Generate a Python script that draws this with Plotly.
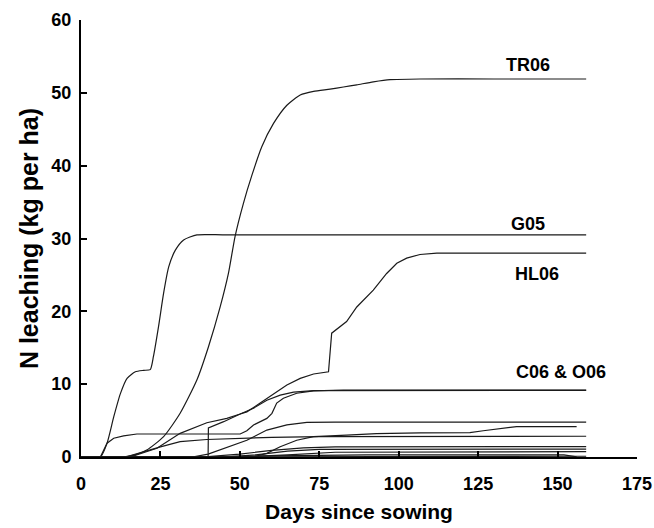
import plotly.graph_objects as go

# ---- data (days since sowing, N leaching kg/ha) ----
tr06_x = [0, 13, 17, 20.7, 26.0, 31.2, 36.5, 40.1, 43.8, 46.4, 48.5, 51.1, 53.8, 56.9, 60.6, 64.8, 69.0, 73.2, 78.4, 82.6, 86.8, 92.0, 97.3, 106.7, 130, 159]
tr06_y = [0, 0, 0.3, 0.96, 2.8, 6.0, 10.6, 15.1, 20.6, 25.2, 30.3, 34.8, 38.7, 42.6, 45.8, 48.3, 49.7, 50.2, 50.5, 50.8, 51.1, 51.5, 51.8, 51.9, 51.9, 51.9]

g05_x = [0, 6.1, 8.2, 10.3, 12.4, 14.5, 17.1, 19.7, 21.8, 22.8, 24.4, 26.0, 27.6, 29.7, 32.3, 36.5, 45, 80, 159]
g05_y = [0, 0, 1.9, 5.5, 8.7, 10.8, 11.7, 11.9, 12.0, 13.8, 17.9, 22.5, 26.1, 28.4, 29.8, 30.5, 30.5, 30.5, 30.5]

hl06_x = [0, 40.0, 40.1, 44.9, 50.1, 52.2, 56.4, 60.6, 64.8, 69.0, 73.2, 77.9, 78.9, 83.6, 86.8, 92.0, 96.2, 99.4, 102.5, 106.7, 112, 159]
hl06_y = [0, 0, 4.0, 4.85, 5.9, 6.2, 7.4, 8.7, 9.9, 10.8, 11.4, 11.7, 17.0, 18.6, 20.6, 22.9, 25.2, 26.6, 27.3, 27.8, 28.0, 28.0]

c06_x = [0, 6.1, 8.2, 10.3, 13.4, 17.6, 50.1, 52.2, 54.3, 58.5, 60.1, 61.6, 63.7, 67.9, 73.2, 82.6, 159]
c06_y = [0, 0, 1.9, 2.57, 2.9, 3.16, 3.16, 3.6, 4.4, 5.3, 6.0, 7.4, 8.06, 8.75, 9.07, 9.2, 9.2]

o06_x = [0, 15.5, 23.9, 31.2, 39.6, 45.9, 50.1, 54.3, 58.5, 62.7, 66.9, 73.2, 159]
o06_y = [0, 0, 1.2, 3.25, 4.7, 5.3, 5.9, 6.7, 7.8, 8.5, 8.9, 9.1, 9.15]

e_x = [0, 14, 25, 31.2, 39.6, 50, 60, 75, 159]
e_y = [0, 0, 1.4, 2.1, 2.4, 2.55, 2.7, 2.8, 2.85]

f_x = [0, 35, 40, 43.8, 52.2, 58.5, 64.8, 71.1, 80, 159]
f_y = [0, 0, 0.4, 0.96, 2.3, 3.7, 4.4, 4.76, 4.8, 4.8]

g_x = [0, 50, 55, 58.5, 62.7, 67.9, 73.2, 83.6, 93, 106.7, 122.4, 126.6, 132.9, 137.1, 156]
g_y = [0, 0, 0.1, 0.5, 1.4, 2.3, 2.8, 3.0, 3.2, 3.3, 3.35, 3.6, 4.0, 4.17, 4.17]

h_x = [0, 38, 50, 60, 70, 80, 159]
h_y = [0, 0, 0.4, 0.9, 1.25, 1.4, 1.42]

i_x = [0, 45, 55, 65, 75, 159]
i_y = [0, 0, 0.3, 0.8, 1.05, 1.08]

j_x = [0, 50, 65, 80, 159]
j_y = [0, 0, 0.3, 0.65, 0.73]

k_x = [0, 30, 60, 90, 152, 156]
k_y = [0, 0, 0.15, 0.3, 0.3, 0.02]

l_x = [0, 20, 80, 159]
l_y = [0, 0, 0.08, 0.1]

series = [(tr06_x, tr06_y, "spline"), (g05_x, g05_y, "spline"), (hl06_x, hl06_y, "linear"),
          (c06_x, c06_y, "linear"), (o06_x, o06_y, "linear"), (e_x, e_y, "linear"),
          (f_x, f_y, "linear"), (g_x, g_y, "linear"), (h_x, h_y, "linear"),
          (i_x, i_y, "linear"), (j_x, j_y, "linear"), (k_x, k_y, "linear"), (l_x, l_y, "linear")]

labels = ["TR06", "G05", "HL06", "C06 &amp; O06"]
label_x = [140.6, 140.6, 143.5, 151]
label_y = [53.8, 32.0, 25.1, 11.7]

x_ticks = [0, 25, 50, 75, 100, 125, 150, 175]
y_ticks = [0, 10, 20, 30, 40, 50, 60]

FONT = "Liberation Sans, Arial, sans-serif"

fig = go.Figure()
for xs, ys, shape in series:
    fig.add_trace(go.Scatter(x=xs, y=ys, mode="lines",
                             line=dict(color="#1a1a1a", width=1.2, shape=shape, smoothing=0.6 if shape == "spline" else None),
                             showlegend=False, hoverinfo="skip"))

for t, lx, ly in zip(labels, label_x, label_y):
    fig.add_annotation(x=lx, y=ly, text=t, showarrow=False,
                       font=dict(family=FONT, size=18, color="black", weight="bold"))

fig.update_layout(
    width=654, height=528,
    margin=dict(l=81, r=17, t=20, b=71),
    paper_bgcolor="white", plot_bgcolor="white",
    font=dict(family=FONT, color="black"),
)
fig.update_xaxes(range=[0, 175], tickvals=x_ticks, ticktext=[str(v) for v in x_ticks],
                 automargin=False,
                 showgrid=False, zeroline=False, showline=True, linecolor="black",
                 linewidth=2, ticks="inside", ticklen=6, tickwidth=2, tickcolor="black",
                 tickfont=dict(family=FONT, size=18, weight="bold"), ticklabelstandoff=9,
                 title=dict(text="Days since sowing", font=dict(family=FONT, size=21, weight="bold"), standoff=12))
fig.update_yaxes(range=[0, 60], tickvals=y_ticks, ticktext=[str(v) for v in y_ticks],
                 automargin=False,
                 showgrid=False, zeroline=False, showline=True, linecolor="black",
                 linewidth=2, ticks="inside", ticklen=6, tickwidth=2, tickcolor="black",
                 tickfont=dict(family=FONT, size=18, weight="bold"), ticklabelstandoff=4,
                 title=dict(text="N leaching (kg per ha)", font=dict(family=FONT, size=25, weight="bold"), standoff=6))

fig.write_html("out.html")
